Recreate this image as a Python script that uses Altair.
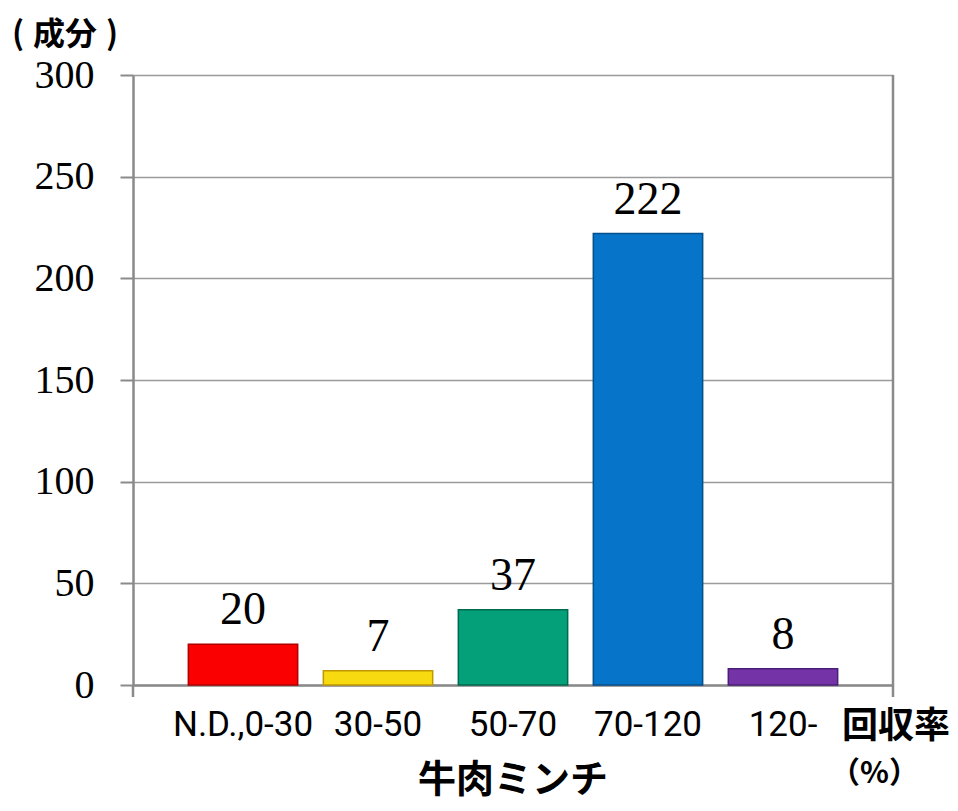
import altair as alt
import pandas as pd

categories = ["N.D.,0-30", "30-50", "50-70", "70-120", "120-"]
counts = [20, 7, 37, 222, 8]
fill_colors = ["#FA0000", "#F7DA10", "#04A07A", "#0674C8", "#7434A8"]
edge_colors = ["#B00000", "#C09800", "#006A4E", "#04508E", "#4A1E78"]
y_ticks = [0, 50, 100, 150, 200, 250, 300]

df = pd.DataFrame({"cat": categories, "n": counts})

W, H = 760, 610
serif = "Liberation Serif"
cjk = "Noto Sans CJK JP"

xscale = alt.Scale(domain=categories, paddingInner=0.19, paddingOuter=0.41)
yscale = alt.Scale(domain=[0, 300], nice=False)

base = alt.Chart(df)

bars = base.mark_bar(strokeWidth=1.5).encode(
    x=alt.X("cat:N", sort=categories, scale=xscale, title=None,
            axis=alt.Axis(labelFont="Roboto", labelFontSize=35,
                          labelColor="#000", labelAngle=0, labelPadding=22,
                          ticks=False, domainColor="#8a8a8a", domainWidth=2.5,
                          grid=False)),
    y=alt.Y("n:Q", scale=yscale, title=None,
            axis=alt.Axis(values=y_ticks, labelFont=serif, labelFontSize=40,
                          labelColor="#000", labelPadding=26, tickSize=13,
                          tickColor="#8a8a8a", tickWidth=2, domainColor="#8a8a8a",
                          domainWidth=2.5, gridColor="#9a9a9a", gridWidth=1.5)),
    color=alt.Color("cat:N", scale=alt.Scale(domain=categories, range=fill_colors), legend=None),
    stroke=alt.Stroke("cat:N", scale=alt.Scale(domain=categories, range=edge_colors), legend=None),
)

labels = base.mark_text(font=serif, fontSize=46, baseline="alphabetic", dy=-20, color="#000").encode(
    x=alt.X("cat:N", sort=categories, scale=xscale),
    y=alt.Y("n:Q", scale=yscale),
    text=alt.Text("n:Q"),
)

one = alt.Chart(pd.DataFrame({"k": [0]}))

right_line = one.mark_rule(color="#8a8a8a", strokeWidth=2.5).encode(
    x=alt.value(W), y=alt.value(0), y2=alt.value(H + 12))
left_tick = one.mark_rule(color="#8a8a8a", strokeWidth=2.5).encode(
    x=alt.value(0), y=alt.value(H), y2=alt.value(H + 12))

unit_style = dict(font=cjk, fontWeight="bold", fontSize=32, baseline="alphabetic", color="#000")
t_unit_l = one.mark_text(align="left", **unit_style).encode(
    x=alt.value(-121), y=alt.value(-30), text=alt.value("("))
t_unit = one.mark_text(align="center", **unit_style).encode(
    x=alt.value(-68), y=alt.value(-30), text=alt.value("成分"))
t_unit_r = one.mark_text(align="right", **unit_style).encode(
    x=alt.value(-15), y=alt.value(-30), text=alt.value(")"))
t_rate = one.mark_text(font=cjk, fontWeight="bold", fontSize=36, align="left",
                       baseline="middle", color="#000").encode(
    x=alt.value(709), y=alt.value(652), text=alt.value("回収率"))
t_pct = one.mark_text(font=cjk, fontWeight="bold", fontSize=30, align="left",
                      baseline="middle", color="#000").encode(
    x=alt.value(697), y=alt.value(699), text=alt.value("（%）"))
t_title = one.mark_text(font=cjk, fontWeight="bold", fontSize=38, align="center",
                        baseline="alphabetic", color="#000").encode(
    x=alt.value(380), y=alt.value(717), text=alt.value("牛肉ミンチ"))

chart = alt.layer(bars, labels, right_line, left_tick,
                  t_unit_l, t_unit, t_unit_r, t_rate, t_pct, t_title).properties(
    width=W, height=H,
    autosize=alt.AutoSizeParams(type="none"),
    padding={"left": 125, "top": 67, "right": 57, "bottom": 118},
).configure_view(stroke=None).configure(background="white")

chart.save("out.html", embed_options={"renderer": "svg", "actions": False})
